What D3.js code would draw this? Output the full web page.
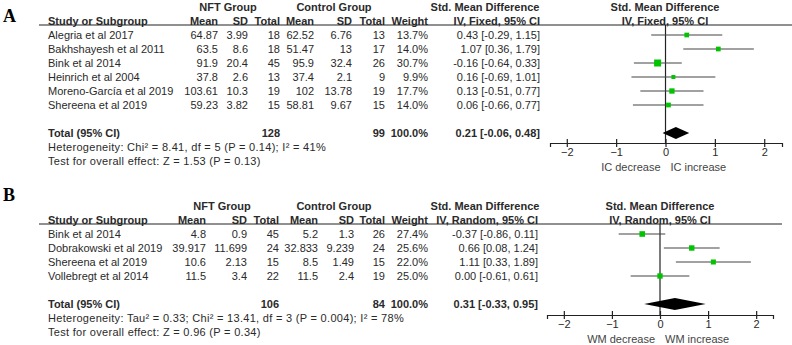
<!DOCTYPE html>
<html lang="en">
<head>
<meta charset="UTF-8">
<title>Forest plots</title>
<script src="https://d3js.org/d3.v7.min.js"></script>
<style>
  body { margin: 0; background: #fff; }
  text { font-family: "Liberation Sans", Arial, sans-serif; font-size: 11px; fill: #2a2a2a; }
  .bold { font-weight: bold; }
  .note { letter-spacing: 0.3px; }
  .letter { font-family: "Liberation Serif", "Times New Roman", serif; font-size: 18px; font-weight: bold; fill: #000; }
</style>
</head>
<body>
<div id="chart"></div>
<script>
// panel A - IC
const studiesA = ["Alegria et al 2017", "Bakhshayesh et al 2011", "Bink et al 2014", "Heinrich et al 2004", "Moreno-García et al 2019", "Shereena et al 2019"]
const nftMeanA = [64.87, 63.5, 91.9, 37.8, 103.61, 59.23]
const nftSdA = [3.99, 8.6, 20.4, 2.6, 10.3, 3.82]
const nftNA = [18, 18, 45, 13, 19, 15]
const ctrlMeanA = [62.52, 51.47, 95.9, 37.4, 102, 58.81]
const ctrlSdA = [6.76, 13, 32.4, 2.1, 13.78, 9.67]
const ctrlNA = [13, 17, 26, 9, 19, 15]
const weightA = [13.7, 14.0, 30.7, 9.9, 17.7, 14.0]
const smdA = [0.43, 1.07, -0.16, 0.16, 0.13, 0.06]
const loA = [-0.29, 0.36, -0.64, -0.69, -0.51, -0.66]
const hiA = [1.15, 1.79, 0.33, 1.01, 0.77, 0.77]
const pooledA = [0.21, -0.06, 0.48]
const totalsA = [128, 99]
const hetA = ["Heterogeneity: Chi² = 8.41, df = 5 (P = 0.14); I² = 41%", "Test for overall effect: Z = 1.53 (P = 0.13)"]

// panel B - WM
const studiesB = ["Bink et al 2014", "Dobrakowski et al 2019", "Shereena et al 2019", "Vollebregt et al 2014"]
const nftMeanB = [4.8, 39.917, 10.6, 11.5]
const nftSdB = [0.9, 11.699, 2.13, 3.4]
const nftNB = [45, 24, 15, 22]
const ctrlMeanB = [5.2, 32.833, 8.5, 11.5]
const ctrlSdB = [1.3, 9.239, 1.49, 2.4]
const ctrlNB = [26, 24, 15, 19]
const weightB = [27.4, 25.6, 22.0, 25.0]
const smdB = [-0.37, 0.66, 1.11, 0.00]
const loB = [-0.86, 0.08, 0.33, -0.61]
const hiB = [0.11, 1.24, 1.89, 0.61]
const pooledB = [0.31, -0.33, 0.95]
const totalsB = [106, 84]
const hetB = ["Heterogeneity: Tau² = 0.33; Chi² = 13.41, df = 3 (P = 0.004); I² = 78%", "Test for overall effect: Z = 0.96 (P = 0.34)"]

const tickVals = [-2, -1, 0, 1, 2]

const width = 792
const height = 345
const svg = d3.select("#chart").append("svg")
    .attr("width", width)
    .attr("height", height)
svg.append("rect").attr("width", width).attr("height", height).attr("fill", "#fff")

const ci = (m, l, h) => `${m.toFixed(2)} [${l.toFixed(2)}, ${h.toFixed(2)}]`

const drawPanel = (cfg, d) => {
    const g = svg.append("g").attr("transform", `translate(0,${cfg.top})`)
    const col = cfg.cols
    const txt = (x, y, s, anchor, cls) => g.append("text")
        .attr("x", x).attr("y", y + 4)
        .attr("text-anchor", anchor || "start")
        .attr("class", cls || null)
        .text(s)

    g.append("text").attr("class", "letter").attr("x", 3).attr("y", cfg.letterY).text(cfg.letter)

    // header
    txt(cfg.nftCenter, 7, "NFT Group", "middle", "bold")
    txt(334, 7, "Control Group", "middle", "bold")
    txt(485, 7, "Std. Mean Difference", "middle", "bold")
    txt(cfg.zero, 7, "Std. Mean Difference", "middle", "bold")
    txt(48, 21, "Study or Subgroup", "start", "bold")
    const heads = ["Mean", "SD", "Total", "Mean", "SD", "Total", "Weight", cfg.method]
    heads.forEach((h, i) => txt(col[i], 21, h, "end", "bold"))
    txt(cfg.zero, 21, cfg.method, "middle", "bold")
    g.append("line").attr("x1", 39).attr("x2", cfg.lineEnd).attr("y1", 25).attr("y2", 25)
        .attr("stroke", "#222").attr("stroke-width", 1.2)

    const rowY = i => 35 + 14 * i
    d.studies.forEach((s, i) => {
        const y = rowY(i)
        txt(48, y, s)
        const vals = [d.nftMean[i], d.nftSd[i], d.nftN[i], d.ctrlMean[i], d.ctrlSd[i], d.ctrlN[i],
            d.weight[i].toFixed(1) + "%", ci(d.smd[i], d.lo[i], d.hi[i])]
        vals.forEach((v, j) => txt(col[j], y, String(v), "end"))
    })
    const totY = rowY(d.studies.length - 1) + 28
    txt(48, totY, "Total (95% CI)", "start", "bold")
    txt(col[2], totY, String(d.totals[0]), "end", "bold")
    txt(col[5], totY, String(d.totals[1]), "end", "bold")
    txt(col[6], totY, "100.0%", "end", "bold")
    txt(col[7], totY, ci(d.pooled[0], d.pooled[1], d.pooled[2]), "end", "bold")
    txt(48, totY + 14, d.het[0], "start", "note")
    txt(48, totY + 28, d.het[1], "start", "note")

    // forest plot
    const x = d3.scaleLinear().domain(cfg.domain).range(cfg.range)
    const size = d3.scaleSqrt().domain([0, d3.max(d.weight)]).range([0, cfg.maxSq])
    const axisY = cfg.axisY

    g.append("line").attr("x1", x(0)).attr("x2", x(0)).attr("y1", 25).attr("y2", axisY)
        .attr("stroke", "#222").attr("stroke-width", 1.2)

    d.studies.forEach((s, i) => {
        const y = rowY(i)
        g.append("line").attr("x1", x(d.lo[i])).attr("x2", x(d.hi[i])).attr("y1", y).attr("y2", y)
            .attr("stroke", "#444").attr("stroke-width", 1.2)
        const w = size(d.weight[i])
        g.append("rect").attr("x", x(d.smd[i]) - w / 2).attr("y", y - w / 2)
            .attr("width", w).attr("height", w).attr("fill", "#00c400")
    })

    const dh = 6
    g.append("path")
        .attr("d", `M${x(d.pooled[1])},${totY} L${x(d.pooled[0])},${totY - dh} L${x(d.pooled[2])},${totY} L${x(d.pooled[0])},${totY + dh} Z`)
        .attr("fill", "#000")

    const ax = g.append("g").attr("transform", `translate(0,${axisY})`)
        .call(d3.axisBottom(x).tickValues(tickVals).tickSizeOuter(0).tickSize(4).tickPadding(5).tickFormat(d3.format("d")))
    ax.attr("font-family", null).attr("font-size", null)
    ax.select(".domain").attr("stroke", "#222").attr("stroke-width", 1.2)
    ax.selectAll(".tick line").attr("y1", -4).attr("y2", 4).attr("stroke", "#222").attr("stroke-width", 1.2)
    ax.selectAll(".tick text").attr("fill", "#333").attr("y", 5)

    txt(x(0) - 5, axisY + 23.5, cfg.left, "end").style("fill", "#444")
    txt(x(0) + 5, axisY + 23.5, cfg.right, "start").style("fill", "#444")
}

drawPanel({
    top: 0, letter: "A", letterY: 22, nftCenter: 228,
    cols: [218, 248, 280, 314, 352, 385, 428, 540],
    method: "IV, Fixed, 95% CI", zero: 665, lineEnd: 792,
    domain: [-2.34, 2.36], range: [550, 782], axisY: 143, maxSq: 7,
    left: "IC decrease", right: "IC increase"
}, {
    studies: studiesA, nftMean: nftMeanA, nftSd: nftSdA, nftN: nftNA,
    ctrlMean: ctrlMeanA, ctrlSd: ctrlSdA, ctrlN: ctrlNA, weight: weightA,
    smd: smdA, lo: loA, hi: hiA, pooled: pooledA, totals: totalsA, het: hetA
})

drawPanel({
    top: 199, letter: "B", letterY: 2, nftCenter: 222,
    cols: [206, 247, 279, 318, 354, 385, 428, 538],
    method: "IV, Random, 95% CI", zero: 660, lineEnd: 782,
    domain: [-2.35, 2.35], range: [547, 773], axisY: 116, maxSq: 5.6,
    left: "WM decrease", right: "WM increase"
}, {
    studies: studiesB, nftMean: nftMeanB, nftSd: nftSdB, nftN: nftNB,
    ctrlMean: ctrlMeanB, ctrlSd: ctrlSdB, ctrlN: ctrlNB, weight: weightB,
    smd: smdB, lo: loB, hi: hiB, pooled: pooledB, totals: totalsB, het: hetB
})
</script>
</body>
</html>
